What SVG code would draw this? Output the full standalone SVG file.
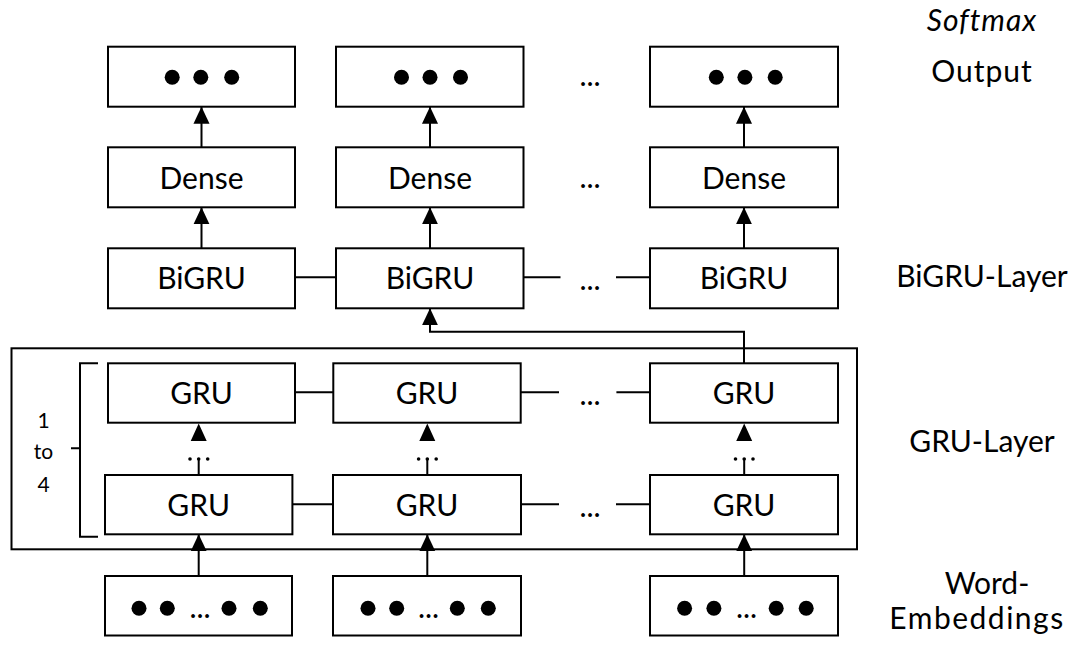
<svg xmlns="http://www.w3.org/2000/svg" width="1079" height="648" viewBox="0 0 1079 648">
<defs>
<style>
.box{fill:#fff;stroke:#000;stroke-width:2}
.ln{fill:none;stroke:#000;stroke-width:2}
.t{font-family:Lato,"Open Sans","Liberation Sans",sans-serif;font-size:30px;fill:#000;text-anchor:middle}
.s{font-size:21px}
.dot{fill:#000}
</style>
<marker id="ah" markerUnits="userSpaceOnUse" markerWidth="17" markerHeight="18" viewBox="0 0 18 17" refX="18" refY="8.5" orient="auto">
<path d="M0,0 L18,8.5 L0,17 z" fill="#000"/>
</marker>
</defs>
<rect width="1079" height="648" fill="#fff"/>

<g id="gru-frame">
<rect class="ln" x="11.5" y="348.3" width="845.5" height="201"/>
<path class="ln" d="M98,363.3 H80 V536.7 H98 M71,448.3 H80"/>
<text class="t s" x="43.5" y="427.5">1</text>
<text class="t s" x="43.5" y="459.3">to</text>
<text class="t s" x="43.5" y="491.7">4</text>
</g>

<g id="connectors">
<line class="ln" x1="201.5" y1="147.3" x2="201.5" y2="106.7" marker-end="url(#ah)"/>
<line class="ln" x1="430" y1="147.3" x2="430" y2="106.7" marker-end="url(#ah)"/>
<line class="ln" x1="744" y1="147.3" x2="744" y2="106.7" marker-end="url(#ah)"/>
<line class="ln" x1="201.5" y1="248.3" x2="201.5" y2="207.3" marker-end="url(#ah)"/>
<line class="ln" x1="430" y1="248.3" x2="430" y2="207.3" marker-end="url(#ah)"/>
<line class="ln" x1="744" y1="248.3" x2="744" y2="207.3" marker-end="url(#ah)"/>
<line class="ln" x1="198.7" y1="576" x2="198.7" y2="534.3" marker-end="url(#ah)"/>
<line class="ln" x1="427.3" y1="576" x2="427.3" y2="534.3" marker-end="url(#ah)"/>
<line class="ln" x1="744.2" y1="576" x2="744.2" y2="534.3" marker-end="url(#ah)"/>
<path class="ln" d="M198.7,475 V458.3 M427.3,475 V458.3 M744.2,475 V458.3"/>
<path class="dot" d="M190.7,441 L198.7,423.5 L206.7,441 z M419.3,441 L427.3,423.5 L435.3,441 z M736.2,441 L744.2,423.5 L752.2,441 z"/>
<path class="ln" d="M744,363.3 V331.7 H430 V308.3" marker-end="url(#ah)"/>
<path class="ln" d="M295,277.3 H336 M523.5,277.3 H560.5 M616,277.3 H650"/>
<path class="ln" d="M295,392.3 H333.3 M520.7,392.3 H559 M616.4,392.3 H650"/>
<path class="ln" d="M292.4,504.3 H333 M521,504.3 H559 M616,504.3 H650"/>
</g>

<g id="ellipses">
<text class="t" x="590" y="86">...</text>
<text class="t" x="590" y="188">...</text>
<text class="t" x="590" y="290">...</text>
<text class="t" x="590" y="405">...</text>
<text class="t" x="590" y="517">...</text>
<g class="dot">
<circle cx="190" cy="459" r="1.8"/><circle cx="207.7" cy="459" r="1.8"/><circle cx="198.7" cy="459" r="1.8"/>
<circle cx="418.6" cy="459" r="1.8"/><circle cx="436.2" cy="459" r="1.8"/><circle cx="427.3" cy="459" r="1.8"/>
<circle cx="735.5" cy="459" r="1.8"/><circle cx="753" cy="459" r="1.8"/><circle cx="744.2" cy="459" r="1.8"/>
</g>
</g>

<g id="out1"><rect class="box" x="108" y="46.7" width="187" height="60"/>
<circle class="dot" cx="172.2" cy="77.3" r="7.5"/><circle class="dot" cx="200.8" cy="77.3" r="7.5"/><circle class="dot" cx="231.7" cy="77.3" r="7.5"/></g>
<g id="out2"><rect class="box" x="336" y="46.7" width="187.5" height="60"/>
<circle class="dot" cx="401.5" cy="77.3" r="7.5"/><circle class="dot" cx="430" cy="77.3" r="7.5"/><circle class="dot" cx="460.5" cy="77.3" r="7.5"/></g>
<g id="out3"><rect class="box" x="650" y="46.7" width="188" height="60"/>
<circle class="dot" cx="716.3" cy="77.3" r="7.5"/><circle class="dot" cx="744.9" cy="77.3" r="7.5"/><circle class="dot" cx="775.2" cy="77.3" r="7.5"/></g>

<g id="dense1"><rect class="box" x="108" y="147.3" width="187" height="60"/><text class="t" x="201.5" y="188.5">Dense</text></g>
<g id="dense2"><rect class="box" x="336" y="147.3" width="187.5" height="60"/><text class="t" x="430" y="188.5">Dense</text></g>
<g id="dense3"><rect class="box" x="650" y="147.3" width="188" height="60"/><text class="t" x="744" y="188.5">Dense</text></g>

<g id="bigru1"><rect class="box" x="108" y="248.3" width="187" height="60"/><text class="t" x="201.5" y="288.7">BiGRU</text></g>
<g id="bigru2"><rect class="box" x="336" y="248.3" width="187.5" height="60"/><text class="t" x="430" y="288.7">BiGRU</text></g>
<g id="bigru3"><rect class="box" x="650" y="248.3" width="188" height="60"/><text class="t" x="744" y="288.7">BiGRU</text></g>

<g id="grutop1"><rect class="box" x="108" y="363.3" width="187" height="59.4"/><text class="t" x="201.5" y="404">GRU</text></g>
<g id="grutop2"><rect class="box" x="333.3" y="363.3" width="187.4" height="59.4"/><text class="t" x="427" y="404">GRU</text></g>
<g id="grutop3"><rect class="box" x="650" y="363.3" width="188" height="59.4"/><text class="t" x="744" y="404">GRU</text></g>

<g id="grubot1"><rect class="box" x="105" y="475" width="187.4" height="59.3"/><text class="t" x="198.7" y="515.7">GRU</text></g>
<g id="grubot2"><rect class="box" x="333" y="475" width="188" height="59.3"/><text class="t" x="427" y="515.7">GRU</text></g>
<g id="grubot3"><rect class="box" x="650" y="475" width="188" height="59.3"/><text class="t" x="744" y="515.7">GRU</text></g>

<g id="emb1"><rect class="box" x="105" y="576" width="187" height="59.5"/>
<circle class="dot" cx="139" cy="608.3" r="7.5"/><circle class="dot" cx="167.3" cy="608.3" r="7.5"/><text class="t" x="200" y="617.5">...</text><circle class="dot" cx="229" cy="608.3" r="7.5"/><circle class="dot" cx="260.3" cy="608.3" r="7.5"/></g>
<g id="emb2"><rect class="box" x="333" y="576" width="188" height="59.5"/>
<circle class="dot" cx="368" cy="608.3" r="7.5"/><circle class="dot" cx="396.7" cy="608.3" r="7.5"/><text class="t" x="428.5" y="617.5">...</text><circle class="dot" cx="457.3" cy="608.3" r="7.5"/><circle class="dot" cx="488.3" cy="608.3" r="7.5"/></g>
<g id="emb3"><rect class="box" x="650" y="576" width="188" height="59.5"/>
<circle class="dot" cx="684.6" cy="608.3" r="7.5"/><circle class="dot" cx="713.9" cy="608.3" r="7.5"/><text class="t" x="746.5" y="617.5">...</text><circle class="dot" cx="776.2" cy="608.3" r="7.5"/><circle class="dot" cx="806.2" cy="608.3" r="7.5"/></g>

<g id="labels">
<text class="t" x="982" y="30.5" font-size="23" font-style="italic" letter-spacing="1">Softmax</text>
<text class="t" x="982" y="81.7" letter-spacing="1">Output</text>
<text class="t" x="982" y="287.3">BiGRU-Layer</text>
<text class="t" x="982" y="451.7">GRU-Layer</text>
<text class="t" x="987" y="594">Word-</text>
<text class="t" x="977" y="628.5" letter-spacing="1.5">Embeddings</text>
</g>
</svg>
